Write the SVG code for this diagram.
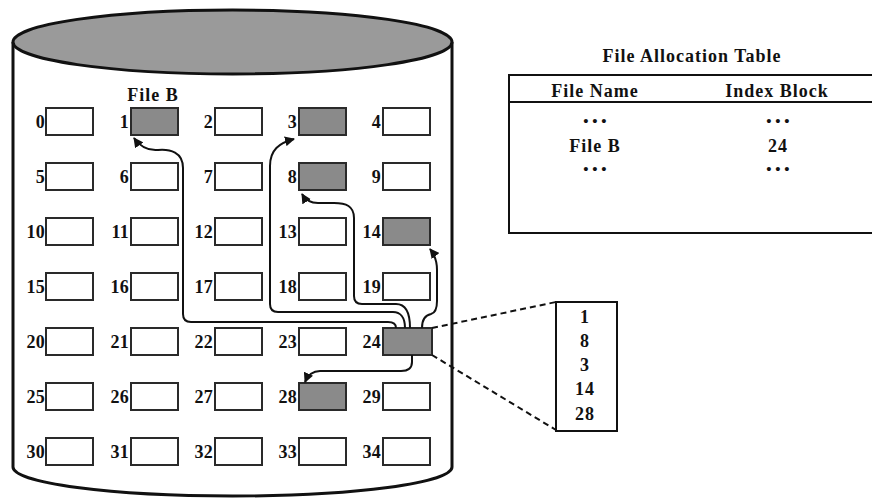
<svg xmlns="http://www.w3.org/2000/svg" width="872" height="498" viewBox="0 0 872 498">
<defs>
<style>
.blk{fill:#ffffff;stroke:#2a2a2a;stroke-width:2}
.used{fill:#8a8a8a;stroke:#2a2a2a;stroke-width:2}
.lbl{font-family:"Liberation Serif",serif;font-weight:bold;font-size:18px;letter-spacing:0.3px;fill:#111;text-anchor:end}
.txt{font-family:"Liberation Serif",serif;font-weight:bold;font-size:18px;letter-spacing:1px;fill:#111;text-anchor:middle}
.dots{font-family:"Liberation Serif",serif;font-weight:bold;font-size:15px;fill:#111;text-anchor:middle}
.conn{fill:none;stroke:#111;stroke-width:2}
.dash{fill:none;stroke:#111;stroke-width:2;stroke-dasharray:6,4}
</style>
<marker id="ah" viewBox="0 0 10 10" refX="9" refY="5" markerWidth="5" markerHeight="5" orient="auto" markerUnits="strokeWidth">
<path d="M0,0 L10,5 L0,10 z" fill="#111"/>
</marker>
</defs>
<rect width="872" height="498" fill="#ffffff"/>
<g id="disk">
<path d="M13 42 V467 A219.5 29 0 0 0 452 467 V42" fill="#ffffff" stroke="#111" stroke-width="3"/>
<ellipse cx="232.5" cy="42" rx="219.5" ry="32" fill="#9a9a9a" stroke="#111" stroke-width="3"/>
</g>
<g id="blocks">
<g id="b0"><rect class="blk" x="46" y="108" width="47" height="27"/><text class="lbl" x="45" y="128">0</text></g>
<g id="b1"><rect class="used" x="131" y="108" width="47" height="27"/><text class="lbl" x="129" y="128">1</text></g>
<g id="b2"><rect class="blk" x="215" y="108" width="47" height="27"/><text class="lbl" x="213" y="128">2</text></g>
<g id="b3"><rect class="used" x="299" y="108" width="47" height="27"/><text class="lbl" x="297" y="128">3</text></g>
<g id="b4"><rect class="blk" x="383" y="108" width="47" height="27"/><text class="lbl" x="381" y="128">4</text></g>
<g id="b5"><rect class="blk" x="46" y="163" width="47" height="27"/><text class="lbl" x="45" y="183">5</text></g>
<g id="b6"><rect class="blk" x="131" y="163" width="47" height="27"/><text class="lbl" x="129" y="183">6</text></g>
<g id="b7"><rect class="blk" x="215" y="163" width="47" height="27"/><text class="lbl" x="213" y="183">7</text></g>
<g id="b8"><rect class="used" x="299" y="163" width="47" height="27"/><text class="lbl" x="297" y="183">8</text></g>
<g id="b9"><rect class="blk" x="383" y="163" width="47" height="27"/><text class="lbl" x="381" y="183">9</text></g>
<g id="b10"><rect class="blk" x="46" y="218" width="47" height="27"/><text class="lbl" x="45" y="238">10</text></g>
<g id="b11"><rect class="blk" x="131" y="218" width="47" height="27"/><text class="lbl" x="129" y="238">11</text></g>
<g id="b12"><rect class="blk" x="215" y="218" width="47" height="27"/><text class="lbl" x="213" y="238">12</text></g>
<g id="b13"><rect class="blk" x="299" y="218" width="47" height="27"/><text class="lbl" x="297" y="238">13</text></g>
<g id="b14"><rect class="used" x="383" y="218" width="47" height="27"/><text class="lbl" x="381" y="238">14</text></g>
<g id="b15"><rect class="blk" x="46" y="273" width="47" height="27"/><text class="lbl" x="45" y="293">15</text></g>
<g id="b16"><rect class="blk" x="131" y="273" width="47" height="27"/><text class="lbl" x="129" y="293">16</text></g>
<g id="b17"><rect class="blk" x="215" y="273" width="47" height="27"/><text class="lbl" x="213" y="293">17</text></g>
<g id="b18"><rect class="blk" x="299" y="273" width="47" height="27"/><text class="lbl" x="297" y="293">18</text></g>
<g id="b19"><rect class="blk" x="383" y="273" width="47" height="27"/><text class="lbl" x="381" y="293">19</text></g>
<g id="b20"><rect class="blk" x="46" y="328" width="47" height="27"/><text class="lbl" x="45" y="348">20</text></g>
<g id="b21"><rect class="blk" x="131" y="328" width="47" height="27"/><text class="lbl" x="129" y="348">21</text></g>
<g id="b22"><rect class="blk" x="215" y="328" width="47" height="27"/><text class="lbl" x="213" y="348">22</text></g>
<g id="b23"><rect class="blk" x="299" y="328" width="47" height="27"/><text class="lbl" x="297" y="348">23</text></g>
<g id="b24"><rect class="used" x="383" y="328" width="49" height="27"/><text class="lbl" x="381" y="348">24</text></g>
<g id="b25"><rect class="blk" x="46" y="383" width="47" height="27"/><text class="lbl" x="45" y="403">25</text></g>
<g id="b26"><rect class="blk" x="131" y="383" width="47" height="27"/><text class="lbl" x="129" y="403">26</text></g>
<g id="b27"><rect class="blk" x="215" y="383" width="47" height="27"/><text class="lbl" x="213" y="403">27</text></g>
<g id="b28"><rect class="used" x="299" y="383" width="47" height="27"/><text class="lbl" x="297" y="403">28</text></g>
<g id="b29"><rect class="blk" x="383" y="383" width="47" height="27"/><text class="lbl" x="381" y="403">29</text></g>
<g id="b30"><rect class="blk" x="46" y="438" width="47" height="27"/><text class="lbl" x="45" y="458">30</text></g>
<g id="b31"><rect class="blk" x="131" y="438" width="47" height="27"/><text class="lbl" x="129" y="458">31</text></g>
<g id="b32"><rect class="blk" x="215" y="438" width="47" height="27"/><text class="lbl" x="213" y="458">32</text></g>
<g id="b33"><rect class="blk" x="299" y="438" width="47" height="27"/><text class="lbl" x="297" y="458">33</text></g>
<g id="b34"><rect class="blk" x="383" y="438" width="47" height="27"/><text class="lbl" x="381" y="458">34</text></g>
</g>
<g id="fileb-label"><text class="txt" x="153" y="101">File B</text></g>
<g id="connectors">
<path class="conn" marker-end="url(#ah)" d="M396 328 C396 324 393 322 388 322 H191 Q183 322 183 314 V168 C183 152 170 149 158 150 C147 151 139 145 134 138"/>
<path class="conn" marker-end="url(#ah)" d="M405 328 C405 317 400 312 393 312 H278 Q270 312 270 304 V166 C270 150 279 143 294 139"/>
<path class="conn" marker-end="url(#ah)" d="M410 328 C410 311 405 304 396 304 H362 Q354 304 354 296 V218 C354 206 346 203 334 203 H318 C310 203 305 199 302 194"/>
<path class="conn" marker-end="url(#ah)" d="M422 328 C422 318 426 315 431 314 C435 313 437 309 437 301 V270 C437 260 434 254 430 249"/>
<path class="conn" marker-end="url(#ah)" d="M412 355 V362 Q412 371 401 371 H320 C312 371 308 375 305 382"/>
<path class="dash" d="M432 328 L556 302"/>
<path class="dash" d="M432 355 L556 430"/>
</g>
<g id="index-block">
<rect x="556" y="302" width="61" height="129" fill="#ffffff" stroke="#111" stroke-width="2"/>
<text class="txt" x="585" y="323">1</text>
<text class="txt" x="585" y="347">8</text>
<text class="txt" x="585" y="371">3</text>
<text class="txt" x="585" y="395">14</text>
<text class="txt" x="585" y="420">28</text>
</g>
<g id="fat">
<text class="txt" x="692" y="62">File Allocation Table</text>
<rect x="509" y="75" width="380" height="158" fill="#ffffff" stroke="#111" stroke-width="2"/>
<line x1="509" y1="102" x2="872" y2="102" stroke="#111" stroke-width="2"/>
<text class="txt" x="595" y="97">File Name</text>
<text class="txt" x="777" y="97">Index Block</text>
<text class="dots" x="595" y="126">• • •</text>
<text class="dots" x="778" y="126">• • •</text>
<text class="txt" x="595" y="152">File B</text>
<text class="txt" x="778" y="152">24</text>
<text class="dots" x="595" y="174">• • •</text>
<text class="dots" x="778" y="174">• • •</text>
</g>
</svg>
